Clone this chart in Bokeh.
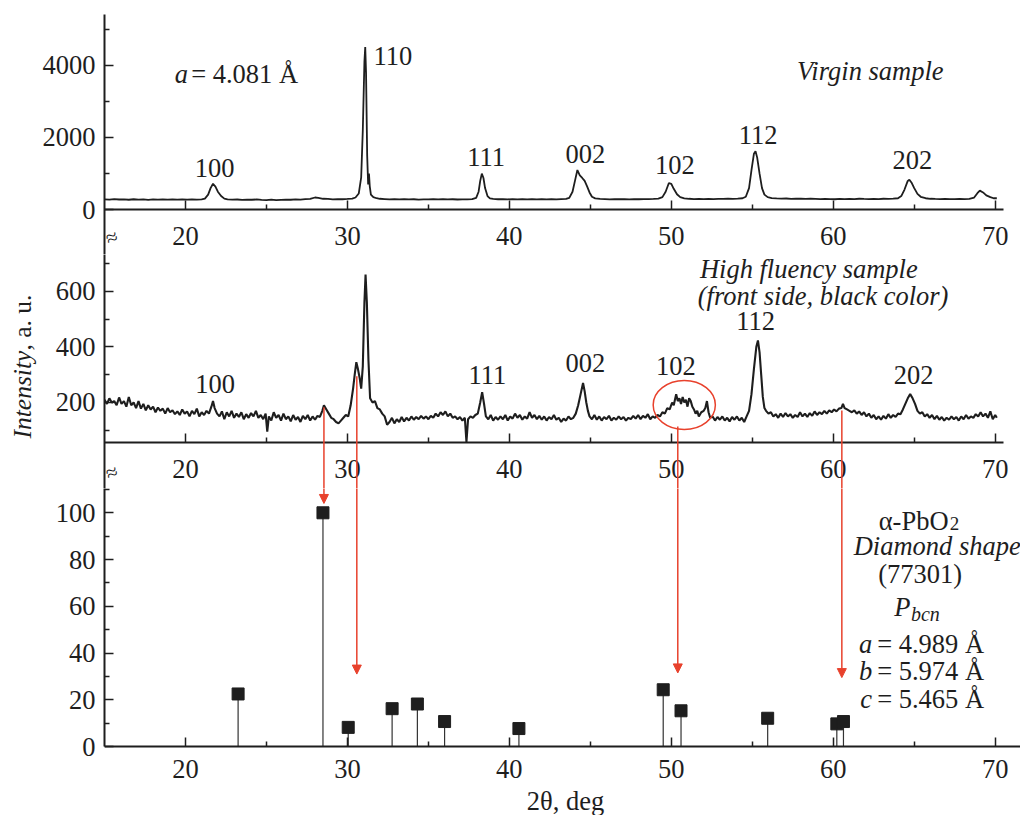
import math
from bokeh.plotting import figure
from bokeh.layouts import column, row
from bokeh.models import FixedTicker, Range1d, Arrow, NormalHead
from bokeh.core.properties import value
from bokeh.embed import file_html
from bokeh.resources import INLINE

FONT = "Liberation Serif"
INK = "#1e1e1e"
RED = "#e8412c"
FS = "26.5px"

# ---------------- data ----------------
# Virgin sample (top panel)
virgin_x = [15.0, 15.3, 15.6, 15.9, 16.2, 16.5, 16.8, 17.1, 17.4, 17.7, 18.0, 18.3, 18.6, 18.9, 19.2,
            19.5, 19.8, 20.1, 20.4, 20.7, 21.0, 21.2, 21.4, 21.55, 21.7, 21.85, 22.0, 22.2, 22.4, 22.6,
            22.9, 23.2, 23.5, 23.8, 24.1, 24.4, 24.7, 25.0, 25.3, 25.6, 25.9, 26.2, 26.5, 26.8, 27.1,
            27.4, 27.7, 28.0, 28.2, 28.5, 28.8, 29.1, 29.4, 29.7, 30.0, 30.3, 30.5, 30.7, 30.85, 30.95,
            31.05, 31.1, 31.15, 31.22, 31.28, 31.33, 31.38, 31.45, 31.6, 31.8, 32.0, 32.3, 32.6, 32.9,
            33.2, 33.5, 33.8, 34.1, 34.4, 34.7, 35.0, 35.3, 35.6, 35.9, 36.2, 36.5, 36.8, 37.1, 37.4,
            37.7, 37.95, 38.1, 38.2, 38.3, 38.4, 38.5, 38.65, 38.8, 39.0, 39.3, 39.6, 39.9, 40.2, 40.5,
            40.8, 41.1, 41.4, 41.7, 42.0, 42.3, 42.6, 42.9, 43.2, 43.5, 43.7, 43.9, 44.05, 44.2, 44.35,
            44.5, 44.65, 44.8, 44.95, 45.1, 45.3, 45.6, 45.9, 46.2, 46.5, 46.8, 47.1, 47.4, 47.7, 48.0,
            48.3, 48.6, 48.9, 49.2, 49.45, 49.65, 49.85, 50.0, 50.15, 50.35, 50.55, 50.8, 51.1, 51.4,
            51.7, 52.0, 52.3, 52.6, 52.9, 53.2, 53.5, 53.8, 54.1, 54.4, 54.6, 54.8, 54.95, 55.1, 55.2,
            55.3, 55.45, 55.6, 55.75, 55.95, 56.2, 56.5, 56.8, 57.1, 57.4, 57.7, 58.0, 58.3, 58.6, 58.9,
            59.2, 59.5, 59.8, 60.1, 60.4, 60.7, 61.0, 61.3, 61.6, 61.9, 62.2, 62.5, 62.8, 63.1, 63.4,
            63.7, 64.0, 64.2, 64.4, 64.6, 64.7, 64.85, 65.0, 65.2, 65.4, 65.7, 66.0, 66.3, 66.6, 66.9,
            67.2, 67.5, 67.8, 68.1, 68.4, 68.7, 68.9, 69.05, 69.25, 69.45, 69.7, 69.9, 70.1]
virgin_y = [290, 280, 295, 285, 290, 278, 292, 283, 288, 276, 290, 282, 287, 279, 285,
            280, 290, 283, 287, 282, 290, 310, 420, 600, 720, 640, 500, 380, 310, 290,
            280, 285, 276, 283, 278, 286, 275, 270, 279, 268, 276, 282, 278, 290, 284,
            295, 300, 340, 330, 305, 300, 290, 298, 292, 300, 310, 340, 450, 900, 2200,
            4100, 4500, 3800, 1500, 700, 1000, 650, 420, 350, 320, 305, 298, 290, 295,
            288, 293, 287, 292, 284, 290, 286, 293, 288, 294, 289, 292, 285, 290, 286,
            295, 330, 500, 800, 1000, 880, 600, 380, 315, 300, 292, 298, 290, 296, 289,
            293, 287, 295, 290, 296, 288, 294, 290, 297, 300, 330, 500, 800, 1100, 950,
            880, 800, 650, 480, 360, 315, 300, 296, 290, 297, 292, 298, 290, 295, 292,
            298, 293, 300, 310, 350, 500, 740, 720, 580, 430, 350, 315, 305, 298,
            303, 296, 302, 298, 304, 300, 306, 302, 310, 320, 360, 600, 1100, 1550, 1620,
            1450, 1000, 600, 420, 350, 325, 315, 308, 312, 304, 310, 305, 300, 307, 302,
            296, 304, 298, 292, 300, 295, 302, 298, 305, 300, 296, 302, 298, 305, 300,
            308, 320, 380, 560, 800, 830, 740, 600, 440, 360, 320, 305, 300, 296, 302,
            298, 294, 300, 296, 305, 340, 460, 530, 480, 400, 350, 320, 320]

# High fluency sample (middle panel)
fluency_x = [15.0, 15.15, 15.3, 15.45, 15.6, 15.75, 15.9, 16.05, 16.2, 16.35, 16.5, 16.65, 16.8, 16.95,
             17.1, 17.25, 17.4, 17.55, 17.7, 17.85, 18.0, 18.15, 18.3, 18.45, 18.6, 18.75, 18.9, 19.05,
             19.2, 19.35, 19.5, 19.65, 19.8, 19.95, 20.1, 20.25, 20.4, 20.55, 20.7, 20.85, 21.0, 21.15,
             21.3, 21.45, 21.6, 21.7, 21.8, 21.95, 22.1, 22.25, 22.4, 22.55, 22.7, 22.85, 23.0, 23.15,
             23.3, 23.45, 23.6, 23.75, 23.9, 24.05, 24.2, 24.35, 24.5, 24.65, 24.8, 24.95, 25.05, 25.15,
             25.3, 25.45, 25.6, 25.75, 25.9, 26.05, 26.2, 26.35, 26.5, 26.65, 26.8, 26.95, 27.1, 27.25,
             27.4, 27.55, 27.7, 27.85, 28.0, 28.15, 28.3, 28.45, 28.55, 28.7, 28.85, 29.0, 29.15, 29.3,
             29.45, 29.6, 29.75, 29.9, 30.05, 30.2, 30.35, 30.45, 30.55, 30.65, 30.75, 30.85, 30.95,
             31.05, 31.12, 31.2, 31.3, 31.4, 31.55, 31.7, 31.85, 32.0, 32.15, 32.3, 32.45, 32.6, 32.75,
             32.9, 33.05, 33.2, 33.35, 33.5, 33.65, 33.8, 33.95, 34.1, 34.25, 34.4, 34.55, 34.7, 34.85,
             35.0, 35.15, 35.3, 35.45, 35.6, 35.75, 35.9, 36.05, 36.2, 36.35, 36.5, 36.65, 36.8, 36.95,
             37.1, 37.25, 37.35, 37.45, 37.6, 37.75, 37.9, 38.05, 38.2, 38.32, 38.45, 38.55, 38.7, 38.85,
             39.0, 39.15, 39.3, 39.45, 39.6, 39.75, 39.9, 40.05, 40.2, 40.35, 40.5, 40.65, 40.8, 40.95,
             41.1, 41.25, 41.4, 41.55, 41.7, 41.85, 42.0, 42.15, 42.3, 42.45, 42.6, 42.75, 42.9, 43.05,
             43.2, 43.35, 43.5, 43.65, 43.8, 43.95, 44.1, 44.25, 44.4, 44.55, 44.65, 44.75, 44.85, 44.95,
             45.1, 45.25, 45.4, 45.55, 45.7, 45.85, 46.0, 46.15, 46.3, 46.45, 46.6, 46.75, 46.9, 47.05,
             47.2, 47.35, 47.5, 47.65, 47.8, 47.95, 48.1, 48.25, 48.4, 48.55, 48.7, 48.85, 49.0, 49.15,
             49.3, 49.45, 49.6, 49.75, 49.9, 50.05, 50.15, 50.3, 50.4, 50.5, 50.6, 50.7, 50.8, 50.9,
             51.0, 51.1, 51.2, 51.3, 51.4, 51.5, 51.6, 51.7, 51.85, 52.0, 52.1, 52.2, 52.3, 52.4, 52.55,
             52.7, 52.85, 53.0, 53.15, 53.3, 53.45, 53.6, 53.75, 53.9, 54.05, 54.2, 54.35, 54.5, 54.65,
             54.8, 54.95, 55.1, 55.25, 55.35, 55.45, 55.55, 55.65, 55.75, 55.85, 56.0, 56.15, 56.3, 56.45,
             56.6, 56.75, 56.9, 57.05, 57.2, 57.35, 57.5, 57.65, 57.8, 57.95, 58.1, 58.25, 58.4, 58.55,
             58.7, 58.85, 59.0, 59.15, 59.3, 59.45, 59.6, 59.75, 59.9, 60.05, 60.2, 60.35, 60.5, 60.6,
             60.7, 60.85, 61.0, 61.15, 61.3, 61.45, 61.6, 61.75, 61.9, 62.05, 62.2, 62.35, 62.5, 62.65,
             62.8, 62.95, 63.1, 63.25, 63.4, 63.55, 63.7, 63.85, 64.0, 64.15, 64.3, 64.45, 64.6, 64.75,
             64.9, 65.05, 65.2, 65.35, 65.5, 65.65, 65.8, 65.95, 66.1, 66.25, 66.4, 66.55, 66.7, 66.85,
             67.0, 67.15, 67.3, 67.45, 67.6, 67.75, 67.9, 68.05, 68.2, 68.35, 68.5, 68.65, 68.8, 68.95,
             69.1, 69.25, 69.4, 69.55, 69.7, 69.85, 70.0, 70.1]
fluency_y = [210, 195, 215, 200, 205, 190, 218, 195, 205, 185, 220, 190, 200, 180,
             205, 178, 195, 172, 190, 175, 185, 165, 182, 170, 178, 160, 180, 165,
             172, 158, 168, 155, 175, 160, 168, 150, 170, 158, 178, 150, 165, 155,
             170, 160, 185, 205, 180, 160, 150, 168, 140, 165, 150, 170, 145, 160,
             148, 165, 140, 158, 145, 162, 150, 170, 145, 155, 140, 160, 95, 150,
             135, 165, 145, 155, 135, 160, 140, 150, 132, 155, 138, 148, 130, 152,
             140, 155, 135, 150, 138, 152, 148, 170, 190, 175, 160, 145, 140, 130,
             125, 135, 145, 155, 150, 190, 250, 300, 345, 320, 290, 250, 330,
             560, 660, 560, 350, 215, 200, 205, 180, 175, 160, 150, 120, 130, 145,
             125, 140, 130, 148, 132, 145, 135, 150, 138, 148, 140, 152, 142, 150,
             140, 152, 145, 160, 150, 165, 155, 168, 150, 160, 145, 150, 140, 148,
             135, 145, 58, 140, 150, 145, 155, 160, 200, 237, 190, 150, 140, 155,
             135, 148, 138, 150, 140, 155, 135, 150, 142, 160, 145, 155, 138, 150,
             142, 165, 145, 155, 140, 152, 138, 150, 135, 148, 140, 155, 138, 145,
             130, 142, 135, 150, 140, 145, 160, 190, 230, 270, 240, 200, 170, 150,
             140, 155, 138, 150, 135, 148, 140, 152, 135, 145, 138, 150, 140, 148,
             135, 145, 140, 152, 142, 155, 140, 152, 145, 158, 140, 150, 145, 155,
             150, 165, 160, 180, 175, 200, 190, 230, 205, 215, 195, 220, 200, 210,
             185, 215, 205, 185, 175, 160, 170, 150, 165, 170, 180, 205, 165, 145, 150,
             135, 148, 138, 150, 135, 145, 132, 148, 138, 150, 135, 145, 130, 150,
             170, 230, 320, 400, 423, 380, 300, 220, 180, 170, 160, 165, 150, 158,
             145, 160, 148, 162, 150, 158, 145, 155, 148, 165, 150, 160, 148, 162,
             152, 168, 155, 165, 158, 170, 160, 172, 165, 175, 168, 178, 180, 195,
             180, 175, 170, 165, 172, 160, 168, 155, 165, 150, 160, 145, 155, 140,
             150, 138, 152, 142, 158, 145, 155, 148, 160, 158, 175, 195, 215, 230,
             215, 195, 170, 160, 165, 150, 158, 145, 155, 140, 152, 138, 148, 135,
             145, 138, 150, 140, 148, 135, 150, 140, 155, 142, 150, 145, 158, 150,
             165, 150, 160, 145, 168, 140, 155, 145]

# alpha-PbO2 reference card (77301) (bottom panel)
card_x = [23.25, 28.49, 30.05, 32.76, 34.32, 36.0, 40.59, 49.5, 50.6, 55.95, 60.22, 60.63]
card_i = [22.5, 100, 8.2, 16.2, 18.2, 10.7, 7.7, 24.3, 15.3, 12.1, 9.7, 10.7]

# red arrows: position, start (middle-panel intensity), end (bottom-panel intensity)
arrow_x = [28.55, 30.58, 50.4, 60.53]
arrow_from = [183, 294, 114, 171]
arrow_to = [104, 31, 31.5, 29.5]

# peak labels
hkl = ["100", "110", "111", "002", "102", "112", "202"]
virgin_lab_x = [21.8, 32.8, 38.57, 44.70, 50.22, 55.36, 64.88]
virgin_lab_y = [1156, 4254, 1455, 1530, 1239, 2061, 1386]
fl_hkl = ["100", "111", "002", "102", "112", "202"]
fluency_lab_x = [21.83, 38.64, 44.70, 50.28, 55.21, 64.96]
fluency_lab_y = [266, 300, 342, 330, 492, 300]

x_ticks = [20, 30, 40, 50, 60, 70]
x_minor = [25, 35, 45, 55, 65]

# ---------------- layout ----------------
STRIP = 39          # left strip carrying the y title
MAIN_W = 981
LEFT = 63
PXU = 16.23         # px per degree
X_END = 15 + (MAIN_W - LEFT) / PXU
X_AXIS_END = 70.51  # upper two x axes stop here
TOTAL_H = 815


def style(p, yticks, yminor, x_loc, x_standoff):
    p.xaxis.ticker = FixedTicker(ticks=x_ticks, minor_ticks=x_minor)
    p.yaxis.ticker = FixedTicker(ticks=yticks, minor_ticks=yminor)
    for ax in p.axis:
        ax.axis_line_width = 2
        ax.axis_line_color = INK
        ax.major_tick_in = 9
        ax.major_tick_out = 0
        ax.minor_tick_in = 5
        ax.minor_tick_out = 0
        ax.major_tick_line_width = 1.5
        ax.minor_tick_line_width = 1.5
        ax.major_tick_line_color = INK
        ax.minor_tick_line_color = INK
        ax.major_label_text_font = FONT
        ax.major_label_text_font_size = FS
        ax.major_label_text_color = INK
    p.xaxis.fixed_location = x_loc
    p.xaxis.major_label_standoff = x_standoff
    p.yaxis.major_label_standoff = 9
    p.xgrid.visible = False
    p.ygrid.visible = False
    p.outline_line_color = None
    p.background_fill_color = "white"
    p.border_fill_color = "white"


def txt(p, x, y, t, size=FS, style_="normal", align="center", baseline="middle", angle=0.0):
    p.text(x=x, y=y, text=t, text_font=value(FONT), text_font_size=size, angle=angle,
           text_font_style=style_, text_align=align, text_baseline=baseline, text_color=INK)


def panel(height, top, yr):
    return figure(width=MAIN_W, height=height, x_range=Range1d(15, X_END),
                  y_range=Range1d(*yr), output_backend="svg", toolbar_location=None, title=None,
                  min_border_left=LEFT, min_border_right=0,
                  min_border_top=top, min_border_bottom=0)


# top: virgin sample
f1 = panel(254, 14, (-1236.4, 5402))
style(f1, [0, 2000, 4000], [1000, 3000, 5000], 0, 17)
f1.xaxis.bounds = (15, X_AXIS_END)
f1.line(virgin_x, virgin_y, line_width=1.8, line_color=INK)
txt(f1, virgin_lab_x, virgin_lab_y, hkl)
txt(f1, [20.15], [3762], ["a"], style_="italic", align="right", baseline="alphabetic")
txt(f1, [20.35], [3762], ["= 4.081 Å"], align="left", baseline="alphabetic")
txt(f1, [62.29], [3826], ["Virgin sample"], style_="italic")
txt(f1, [15.45], [-766], ["≈"], size="21px", angle=0.35)

# middle: high fluency sample
f2 = panel(234, 0, (-109.1, 731.9))
style(f2, [200, 400, 600], [100, 300, 500, 700], 56.2, 17)
f2.xaxis.bounds = (15, X_AXIS_END)
f2.line(fluency_x, fluency_y, line_width=2.1, line_color=INK)
txt(f2, fluency_lab_x, fluency_lab_y, fl_hkl)
txt(f2, [58.49], [681], ["High fluency sample"], style_="italic")
txt(f2, [59.37], [584], ["(front side, black color)"], style_="italic")
f2.ellipse(x=[50.8], y=[191], width=[3.84], height=[176], fill_color=None,
           line_color=RED, line_width=1.5)
for xa, ya in zip(arrow_x, arrow_from):
    f2.add_layout(Arrow(x_start=xa, y_start=ya, x_end=xa, y_end=-600, end=None,
                        line_color=RED, line_width=1.5))
txt(f2, [15.45], [-51.6], ["≈"], size="21px", angle=0.35)

# bottom: reference pattern
f3 = panel(TOTAL_H - 254 - 234, 0, (-29.5, 110.4))
style(f3, [0, 20, 40, 60, 80, 100], [10, 30, 50, 70, 90, 110], 0, 13)
f3.yaxis.bounds = (0, 110.4)
f3.segment(x0=card_x, y0=0, x1=card_x, y1=card_i, line_color="#333333", line_width=1.2)
f3.scatter(card_x, card_i, marker="square", size=12, fill_color=INK, line_color=INK)
for xa, ya in zip(arrow_x, arrow_to):
    f3.add_layout(Arrow(x_start=xa, y_start=400, x_end=xa, y_end=ya,
                        end=NormalHead(size=9, fill_color=RED, line_color=RED),
                        line_color=RED, line_width=1.5))
txt(f3, [67.12], [96.7], ["α-PbO"], align="right", baseline="alphabetic")
txt(f3, [67.2], [95.3], ["2"], size="19px", align="left", baseline="alphabetic")
txt(f3, [66.42], [86], ["Diamond shape"], style_="italic")
txt(f3, [65.37], [73.9], ["(77301)"])
txt(f3, [64.76], [59.6], ["P"], style_="italic", align="right", baseline="alphabetic")
txt(f3, [64.8], [56.8], ["bcn"], size="20px", style_="italic", align="left", baseline="alphabetic")
txt(f3, [62.40, 62.40, 62.40], [44.0, 32.5, 20.4], ["a", "b", "c"], style_="italic",
    align="right", baseline="alphabetic")
txt(f3, [62.71, 62.71, 62.71], [44.0, 32.5, 20.4], ["= 4.989 Å", "= 5.974 Å", "= 5.465 Å"],
    align="left", baseline="alphabetic")
txt(f3, [43.47], [-23.5], ["2θ, deg"])

# left strip with the y-axis title
strip = figure(width=STRIP, height=TOTAL_H, x_range=Range1d(0, STRIP), y_range=Range1d(0, TOTAL_H),
               output_backend="svg", toolbar_location=None, title=None,
               x_axis_type=None, y_axis_type=None,
               min_border_left=0, min_border_right=0, min_border_top=0, min_border_bottom=0)
strip.xgrid.visible = False
strip.ygrid.visible = False
strip.outline_line_color = None
txt(strip, [22], [377], ["Intensity"], size="25.5px", style_="italic", align="left", angle=math.pi / 2)
txt(strip, [22], [465], [", a. u."], size="25.5px", align="left", angle=math.pi / 2)

layout = row(strip, column(f1, f2, f3))
open("out.html", "w", encoding="utf-8").write(file_html(layout, INLINE))
